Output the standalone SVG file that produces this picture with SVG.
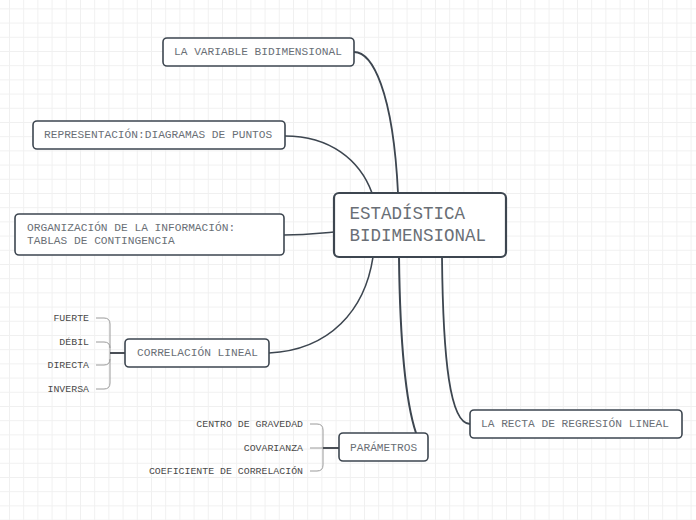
<svg xmlns="http://www.w3.org/2000/svg" width="696" height="520" viewBox="0 0 696 520">
<defs>
<pattern id="grid" x="9" y="8.4" width="14.2" height="14.2" patternUnits="userSpaceOnUse">
<path d="M0,0.5 H14.2 M0.5,0 V14.2" fill="none" stroke="#f0f0f0" stroke-width="1"/>
</pattern>
<style>
.box{fill:#ffffff;stroke:#3d4650;stroke-width:1.6}
.main{fill:#ffffff;stroke:#3d4650;stroke-width:2.2}
.t{font-family:"Liberation Mono",monospace;font-size:11.2px;fill:#6a6f76}
.mt{font-family:"Liberation Mono",monospace;font-size:17.5px;fill:#6a6f76}
.c{font-family:"Liberation Mono",monospace;font-size:9.9px;fill:#4a4a4a;text-anchor:end}
.con{fill:none;stroke:#3d4650;stroke-linecap:round}
.br{fill:none;stroke:#9a9a9a;stroke-width:1}
.jn{fill:none;stroke:#4a4f56;stroke-width:2}
</style>
</defs>
<rect x="0" y="0" width="696" height="520" fill="#ffffff"/>
<rect x="0" y="0" width="696" height="520" fill="url(#grid)"/>
<g id="connectors">
<path class="con" stroke-width="1.8" d="M354,52 C372,52 393,90 398,193"/>
<path class="con" stroke-width="1.6" d="M285,136 C330,136 360,160 372,193"/>
<path class="con" stroke-width="1.6" d="M284,235 C310,235 320,233 334,232"/>
<path class="con" stroke-width="1.6" d="M269,353 C330,350 365,310 373,257"/>
<path class="con" stroke-width="2" d="M399,257 C400,340 405,400 416,433"/>
<path class="con" stroke-width="1.8" d="M442,257 C443,360 450,424 470,424"/>
<path class="br" d="M96,318 H104 Q110,318 110,324 V383 Q110,389 104,389 H96 M96,342 H104 Q110,342 110,348 M96,365 H104 Q110,365 110,359"/>
<path class="jn" d="M110,353 H125"/>
<path class="br" d="M310,424 H317 Q323,424 323,430 V465 Q323,471 317,471 H310 M310,448 H323"/>
<path class="jn" d="M323,448 H339"/>
</g>
<g id="main">
<rect class="main" x="334" y="193" width="172" height="64" rx="5"/>
<text class="mt" x="349.5" y="219">ESTADÍSTICA</text>
<text class="mt" x="349.5" y="241">BIDIMENSIONAL</text>
</g>
<g id="variable">
<rect class="box" x="163" y="38" width="191" height="28" rx="4"/>
<text class="t" x="174" y="55">LA VARIABLE BIDIMENSIONAL</text>
</g>
<g id="representacion">
<rect class="box" x="33" y="121" width="252" height="28" rx="4"/>
<text class="t" x="44" y="138">REPRESENTACIÓN:DIAGRAMAS DE PUNTOS</text>
</g>
<g id="organizacion">
<rect class="box" x="15" y="214" width="269" height="41" rx="4"/>
<text class="t" x="27" y="231">ORGANIZACIÓN DE LA INFORMACIÓN:</text>
<text class="t" x="27" y="244">TABLAS DE CONTINGENCIA</text>
</g>
<g id="correlacion">
<rect class="box" x="125" y="339" width="144" height="28" rx="4"/>
<text class="t" x="137" y="356">CORRELACIÓN LINEAL</text>
</g>
<g id="fuerte"><text class="c" x="89" y="321">FUERTE</text></g>
<g id="debil"><text class="c" x="89" y="345">DÉBIL</text></g>
<g id="directa"><text class="c" x="89" y="368">DIRECTA</text></g>
<g id="inversa"><text class="c" x="89" y="392">INVERSA</text></g>
<g id="parametros">
<rect class="box" x="339" y="433" width="89" height="28" rx="4"/>
<text class="t" x="350" y="451">PARÁMETROS</text>
</g>
<g id="centro"><text class="c" x="303" y="427">CENTRO DE GRAVEDAD</text></g>
<g id="covarianza"><text class="c" x="303" y="451">COVARIANZA</text></g>
<g id="coeficiente"><text class="c" x="303" y="474">COEFICIENTE DE CORRELACIÓN</text></g>
<g id="recta">
<rect class="box" x="470" y="410" width="212" height="28" rx="4"/>
<text class="t" x="481" y="427">LA RECTA DE REGRESIÓN LINEAL</text>
</g>
</svg>
